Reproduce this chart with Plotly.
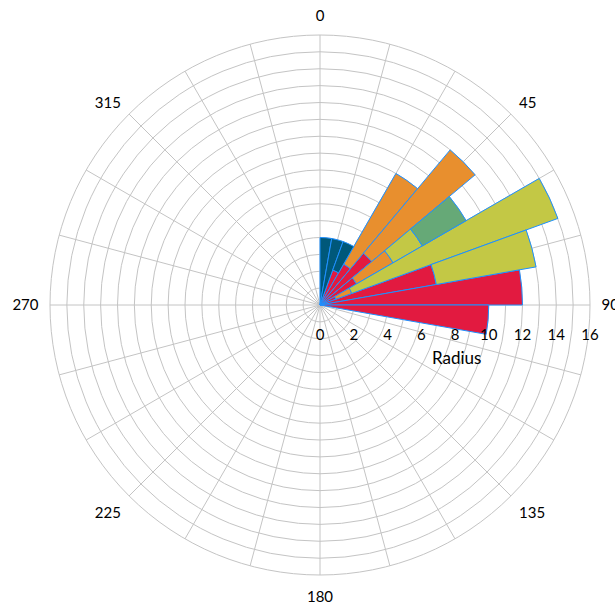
import plotly.graph_objects as go

# Direction bins (degrees) and stacked radius values per colour series
theta = [5, 15, 25, 35, 45, 55, 65, 75, 85, 95]
red = [0, 0, 2.2, 2.8, 4, 2.5, 1.0, 7, 12, 10]
orange = [0, 0, 0, 6.2, 8, 2.5, 1.0, 0, 0, 0]
yellowgreen = [0, 0, 0, 0, 0, 2, 13, 6, 0, 0]
green = [0, 0, 0, 0, 0, 3, 0, 0, 0, 0]
darkblue = [4, 4, 1.8, 0, 0, 0, 0, 0, 0, 0]

series = [
    ("red", red, "#E21A40"),
    ("orange", orange, "#E88F2E"),
    ("yellowgreen", yellowgreen, "#C3C845"),
    ("green", green, "#66A977"),
    ("darkblue", darkblue, "#00587A"),
]

angle_ticks = list(range(0, 360, 15))
angle_text = [str(a) if a % 45 == 0 else "" for a in angle_ticks]
radial_ticks = list(range(0, 17))
radial_text = [str(v) if v % 2 == 0 else "" for v in radial_ticks]

fig = go.Figure()
for name, vals, color in series:
    th = [t for t, v in zip(theta, vals) if v]
    rr = [v for v in vals if v]
    fig.add_trace(go.Barpolar(
        r=rr, theta=th, width=[10] * len(th), name=name,
        marker=dict(color=color, line=dict(color="#1E90FF", width=1)),
        showlegend=False,
    ))

grid = "#C4C4C4"
fig.update_layout(
    width=615, height=609,
    margin=dict(l=50, r=25, t=35, b=34),
    paper_bgcolor="white",
    font=dict(family="Lato, sans-serif", size=15, color="black"),
    polar=dict(
        bgcolor="white",
        bargap=0,
        barmode="stack",
        angularaxis=dict(
            rotation=90, direction="clockwise",
            tickmode="array", tickvals=angle_ticks, ticktext=angle_text,
            ticks="outside", ticklen=8, tickcolor="rgba(0,0,0,0)",
            showline=True, linecolor=grid, linewidth=1,
            gridcolor=grid, gridwidth=1,
            tickfont=dict(size=15),
        ),
        radialaxis=dict(
            range=[0, 16], angle=0,
            tickmode="array", tickvals=radial_ticks, ticktext=radial_text,
            ticks="outside", ticklen=16, tickcolor="rgba(0,0,0,0)",
            showline=False, gridcolor=grid, gridwidth=1,
            tickfont=dict(size=15),
        ),
    ),
    annotations=[dict(
        text="Radius", xref="paper", yref="paper",
        x=0.752, y=0.402, xanchor="center", yanchor="middle",
        showarrow=False, font=dict(size=17),
    )],
)

fig.write_html("out.html")
